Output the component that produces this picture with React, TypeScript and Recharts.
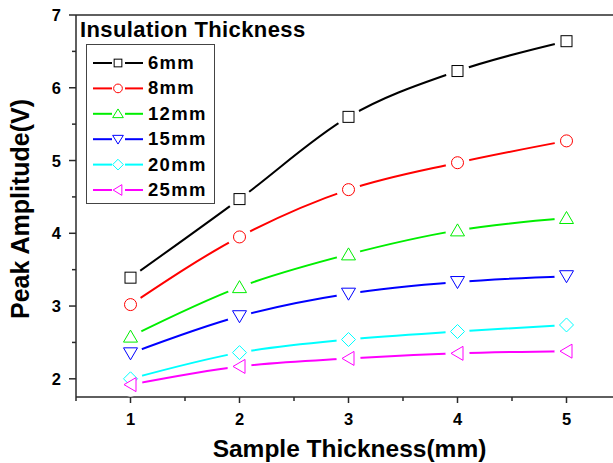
import React from "react"
import { ComposedChart, Line, Scatter, XAxis, YAxis, Legend, ReferenceLine } from "recharts"

// sample thickness (mm) on the x axis
const thickness = [1, 2, 3, 4, 5]

// peak amplitude (V) for each insulation thickness
const amp6mm = [3.39, 4.47, 5.6, 6.23, 6.64]
const amp8mm = [3.02, 3.95, 4.6, 4.97, 5.27]
const amp12mm = [2.58, 3.26, 3.71, 4.04, 4.21]
const amp15mm = [2.35, 2.86, 3.17, 3.33, 3.41]
const amp20mm = [2.0, 2.36, 2.54, 2.65, 2.74]
const amp25mm = [1.92, 2.17, 2.28, 2.35, 2.38]

const xTicks = [0.5, 1, 1.5, 2, 2.5, 3, 3.5, 4, 4.5, 5, 5.5]
const yTicks = [2, 2.5, 3, 3.5, 4, 4.5, 5, 5.5, 6, 6.5, 7]

const FONT = "'Liberation Sans', Arial, sans-serif"
const AXIS = "#2a2a2a"

type Shape = "square" | "circle" | "up" | "down" | "diamond" | "left"

const series: { key: string; label: string; values: number[]; color: string; shape: Shape }[] = [
  { key: "s6", label: "6mm", values: amp6mm, color: "#000000", shape: "square" },
  { key: "s8", label: "8mm", values: amp8mm, color: "#ff0000", shape: "circle" },
  { key: "s12", label: "12mm", values: amp12mm, color: "#00ee00", shape: "up" },
  { key: "s15", label: "15mm", values: amp15mm, color: "#0000ff", shape: "down" },
  { key: "s20", label: "20mm", values: amp20mm, color: "#00ffff", shape: "diamond" },
  { key: "s25", label: "25mm", values: amp25mm, color: "#ff00ff", shape: "left" },
]

const data = thickness.map((t, i) => {
  const row: Record<string, number> = { x: t }
  series.forEach((s) => (row[s.key] = s.values[i]))
  return row
})

function Marker({ cx, cy, shape, color, size = 1 }: { cx: number; cy: number; shape: Shape; color: string; size?: number }) {
  const common = { fill: "white", stroke: color, strokeWidth: 1 }
  const s = 5.5 * size
  switch (shape) {
    case "square":
      return <rect x={cx - s} y={cy - s} width={s * 2} height={s * 2} {...common} />
    case "circle":
      return <circle cx={cx} cy={cy} r={s + 0.5} {...common} />
    case "up":
      return <polygon points={`${cx},${cy - s - 1} ${cx - s - 1.5},${cy + s} ${cx + s + 1.5},${cy + s}`} {...common} />
    case "down":
      return <polygon points={`${cx},${cy + s + 1} ${cx - s - 1.5},${cy - s} ${cx + s + 1.5},${cy - s}`} {...common} />
    case "diamond":
      return <polygon points={`${cx},${cy - s - 1.5} ${cx + s + 1.5},${cy} ${cx},${cy + s + 1.5} ${cx - s - 1.5},${cy}`} {...common} />
    case "left":
      return <polygon points={`${cx - s - 1},${cy} ${cx + s},${cy - s - 1.5} ${cx + s},${cy + s + 1.5}`} {...common} />
  }
}

function YTick(props: any) {
  const { x, y, payload } = props
  const major = Number.isInteger(payload.value)
  return (
    <g>
      <line x1={x - (major ? 7 : 4)} x2={x} y1={y} y2={y} stroke={AXIS} strokeWidth={1.5} />
      {major && (
        <text x={x - 15} y={y + 6} textAnchor="end" fontFamily={FONT} fontWeight="bold" fontSize={16.5} fill="#000">
          {payload.value}
        </text>
      )}
    </g>
  )
}

function XTick(props: any) {
  const { x, y, payload } = props
  const major = Number.isInteger(payload.value)
  return (
    <g>
      <line x1={x} x2={x} y1={y} y2={y + (major ? 6 : 4)} stroke={AXIS} strokeWidth={1.5} />
      {major && (
        <text x={x} y={y + 28} textAnchor="middle" fontFamily={FONT} fontWeight="bold" fontSize={16.5} fill="#000">
          {payload.value}
        </text>
      )}
    </g>
  )
}

function XTitle({ viewBox }: any) {
  const { x, y, width } = viewBox
  return (
    <text x={x + width / 2 + 1} y={y + 60} textAnchor="middle" fontFamily={FONT} fontWeight="bold" fontSize={24.5} fill="#000">
      Sample Thickness(mm)
    </text>
  )
}

function YTitle({ viewBox }: any) {
  const { x, y, height } = viewBox
  const cx = x + 13
  const cy = y + height / 2 + 3
  return (
    <text x={cx} y={cy} transform={`rotate(-90 ${cx} ${cy})`} textAnchor="middle" fontFamily={FONT} fontWeight="bold" fontSize={25} fill="#000">
      Peak Amplitude(V)
    </text>
  )
}

function LegendBox() {
  return (
    <svg width={320} height={210} style={{ position: "absolute", left: 0, top: 0 }}>
      <text x={80} y={36.5} fontFamily={FONT} fontWeight="bold" fontSize={22} letterSpacing={0.4} fill="#000">
        Insulation Thickness
      </text>
      <rect x={86.5} y={44.5} width={128} height={159} fill="white" stroke="#444" strokeWidth={1} />
      {series.map((s, i) => {
        const cy = 63 + i * 25.4
        return (
          <g key={s.key}>
            <line x1={93} x2={112} y1={cy} y2={cy} stroke={s.color} strokeWidth={2} />
            <line x1={125} x2={143} y1={cy} y2={cy} stroke={s.color} strokeWidth={2} />
            <Marker cx={118} cy={cy} shape={s.shape} color={s.color} size={0.7} />
            <text x={148} y={cy + 6} fontFamily={FONT} fontWeight="bold" fontSize={18.5} letterSpacing={1.3} fill="#000">
              {s.label}
            </text>
          </g>
        )
      })}
    </svg>
  )
}

export default function App() {
  return (
    <div style={{ position: "fixed", left: 0, top: 0, width: 613, height: 463, overflow: "hidden", background: "white" }}>
      <ComposedChart width={640} height={463} data={data} margin={{ top: 15, right: 19, bottom: 6, left: 16 }}>
        <XAxis
          dataKey="x"
          type="number"
          domain={[0.5, 5.5]}
          ticks={xTicks}
          tick={<XTick />}
          tickLine={false}
          tickSize={0}
          tickMargin={0}
          height={60}
          stroke={AXIS}
          strokeWidth={1.5}
          interval={0}
          label={<XTitle />}
        />
        <YAxis
          type="number"
          domain={[1.75, 7]}
          ticks={yTicks}
          tick={<YTick />}
          tickLine={false}
          tickSize={0}
          tickMargin={0}
          width={60}
          stroke={AXIS}
          strokeWidth={1.5}
          interval={0}
          label={<YTitle />}
        />
        <ReferenceLine y={7} stroke={AXIS} strokeWidth={1.5} />
        <ReferenceLine x={5.5} stroke={AXIS} strokeWidth={1.5} />
        {series.map((s) => (
          <Line
            key={s.key}
            dataKey={s.key}
            type="monotone"
            stroke={s.color}
            strokeWidth={2}
            dot={false}
            activeDot={false}
            isAnimationActive={false}
          />
        ))}
        {/* white patches so each curve stops short of its markers */}
        {series.map((s) => (
          <Scatter
            key={s.key + "-gap"}
            dataKey={s.key}
            isAnimationActive={false}
            shape={(p: any) => <circle cx={p.cx} cy={p.cy} r={12} fill="white" />}
          />
        ))}
        {series.map((s) => (
          <Scatter
            key={s.key + "-mark"}
            dataKey={s.key}
            isAnimationActive={false}
            shape={(p: any) => <Marker cx={p.cx} cy={p.cy} shape={s.shape} color={s.color} />}
          />
        ))}
        <Legend layout="horizontal" verticalAlign="middle" align="center" wrapperStyle={{ left: 0, top: 0, width: 320, height: 210 }} content={() => <LegendBox />} />
      </ComposedChart>
    </div>
  )
}
